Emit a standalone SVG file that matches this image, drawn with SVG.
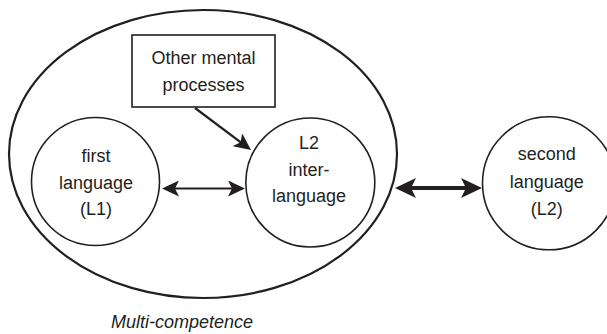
<svg xmlns="http://www.w3.org/2000/svg" width="607" height="334" viewBox="0 0 607 334">
<style>
  text { font-family: "Liberation Sans", Arial, sans-serif; font-size: 18px; fill: #231f20; text-anchor: middle; }
  .shape { fill: none; stroke: #231f20; stroke-width: 1.6; }
  .outer { fill: none; stroke: #231f20; stroke-width: 2.2; }
  .conn { fill: none; stroke: #231f20; stroke-width: 2.2; }
  .thick { fill: none; stroke: #231f20; stroke-width: 4; }
  .ital { font-style: italic; }
</style>
<defs>
  <marker id="ah" viewBox="0 0 17 16" refX="13" refY="8" markerWidth="17" markerHeight="16" markerUnits="userSpaceOnUse" orient="auto-start-reverse">
    <path d="M0,0 L17,8 L0,16 L4,8 Z" fill="#231f20"/>
  </marker>
  <marker id="ahb" viewBox="0 0 21 20" refX="16" refY="10" markerWidth="21" markerHeight="20" markerUnits="userSpaceOnUse" orient="auto-start-reverse">
    <path d="M0,0 L21,10 L0,20 L5,10 Z" fill="#231f20"/>
  </marker>
</defs>
<rect width="607" height="334" fill="#fff"/>
<g id="multi-competence">
  <ellipse class="outer" cx="203" cy="154" rx="194" ry="144"/>
  <text class="ital" x="182" y="328">Multi-competence</text>
</g>
<g id="other-mental">
  <rect class="shape" x="132" y="35" width="143" height="72"/>
  <text x="203.5" y="64">Other mental</text>
  <text x="203.5" y="91">processes</text>
</g>
<g id="l1">
  <circle class="shape" cx="95.5" cy="181.5" r="64"/>
  <text x="96" y="162">first</text>
  <text x="96" y="188.5">language</text>
  <text x="96" y="215">(L1)</text>
</g>
<g id="interlanguage">
  <circle class="shape" cx="310.3" cy="182.5" r="64.5"/>
  <text x="309" y="149">L2</text>
  <text x="309" y="176">inter-</text>
  <text x="309" y="201.5">language</text>
</g>
<g id="l2">
  <circle class="shape" cx="549" cy="183.3" r="66.5"/>
  <text x="546.7" y="160">second</text>
  <text x="546.7" y="188.3">language</text>
  <text x="546.7" y="215">(L2)</text>
</g>
<g id="connectors">
  <line class="conn" x1="166" y1="188.5" x2="241" y2="188.5" marker-start="url(#ah)" marker-end="url(#ah)"/>
  <line class="conn" x1="195" y1="108" x2="247.8" y2="147.6" marker-end="url(#ah)"/>
  <line class="thick" x1="400" y1="188" x2="477" y2="188" marker-start="url(#ahb)" marker-end="url(#ahb)"/>
</g>
</svg>
